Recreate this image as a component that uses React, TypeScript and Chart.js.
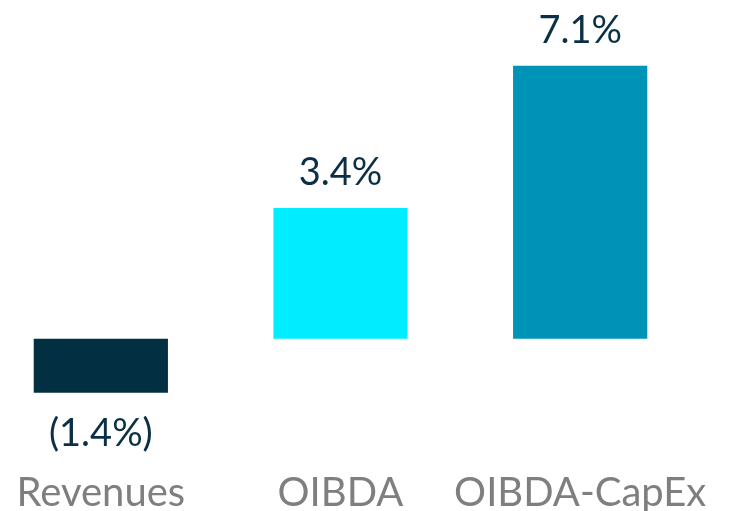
import React, { useEffect, useRef } from "react";
import { Chart, registerables } from "chart.js";

Chart.register(...registerables);

const categories = ["Revenues", "OIBDA", "OIBDA-CapEx"];
const values = [-1.4, 3.4, 7.1];
const valueLabels = ["(1.4%)", "3.4%", "7.1%"];
const barColors = ["#032F43", "#00EEFF", "#0093B8"];

const FONT = "Lato, 'Open Sans', sans-serif";

const labelPlugin = {
  id: "labels",
  afterDatasetsDraw(chart: any) {
    const ctx = chart.ctx;
    const meta = chart.getDatasetMeta(0);
    ctx.save();
    ctx.textAlign = "center";
    ctx.textBaseline = "middle";
    meta.data.forEach((bar: any, i: number) => {
      const v = values[i];
      ctx.font = `38px ${FONT}`;
      ctx.fillStyle = "#0B2F45";
      const y = v >= 0 ? bar.y - 35 : bar.y + 41;
      ctx.fillText(valueLabels[i], bar.x, y);
      ctx.font = `40px ${FONT}`;
      ctx.fillStyle = "#7F7F7F";
      ctx.fillText(categories[i], bar.x, chart.chartArea.bottom + 58);
    });
    ctx.restore();
  },
};

export default function App() {
  const ref = useRef<HTMLCanvasElement>(null);
  useEffect(() => {
    document.body.style.margin = "0";
    const chart = new Chart(ref.current!, {
      type: "bar",
      data: {
        labels: categories,
        datasets: [
          {
            data: values,
            backgroundColor: barColors,
            barPercentage: 1,
            categoryPercentage: 0.56,
          },
        ],
      },
      options: {
        animation: false,
        responsive: false,
        maintainAspectRatio: false,
        layout: { padding: { top: 31, left: 0, right: 38, bottom: 76 } },
        plugins: { legend: { display: false }, tooltip: { enabled: false } },
        scales: {
          x: { display: false },
          y: { display: false, min: -2.5, max: 8 },
        },
      },
      plugins: [labelPlugin],
    });
    return () => chart.destroy();
  }, []);
  return (
    <div style={{ position: "relative", width: 738, height: 511, overflow: "hidden" }}>
      <canvas
        ref={ref}
        width={757}
        height={511}
        style={{ position: "absolute", left: -19, top: 0, width: 757, height: 511 }}
      />
    </div>
  );
}
